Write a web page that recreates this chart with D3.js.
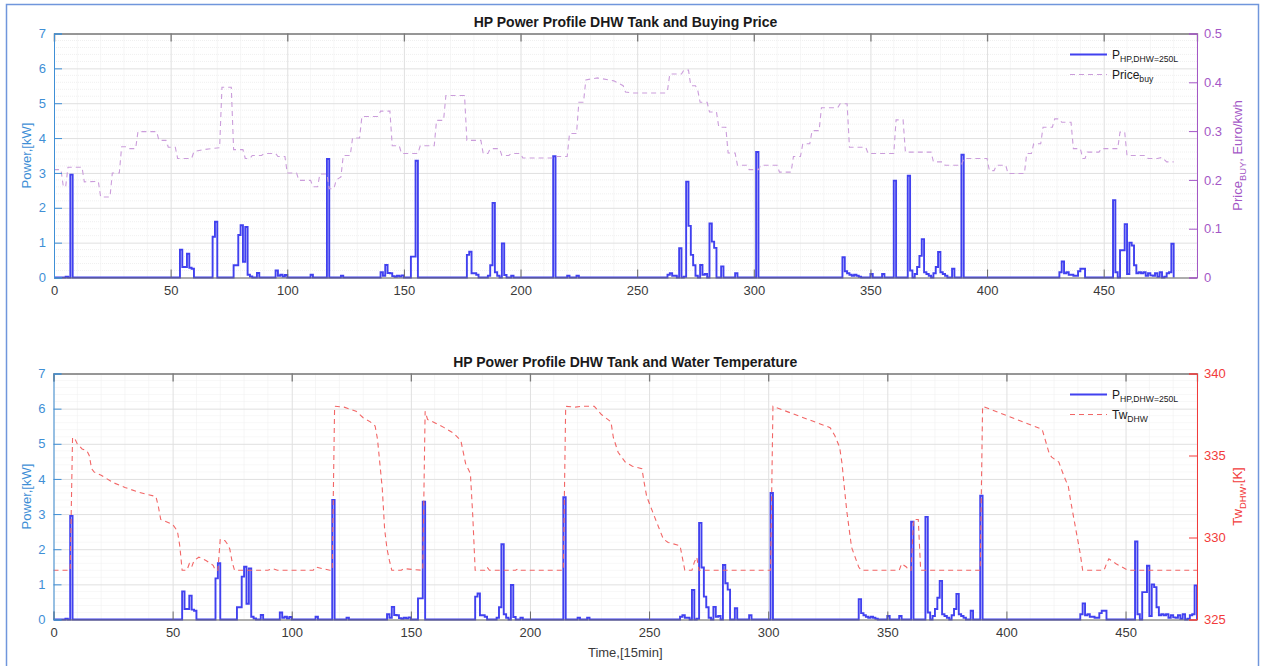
<!DOCTYPE html>
<html>
<head>
<meta charset="utf-8">
<script src="https://cdn.jsdelivr.net/npm/d3@7"></script>
<style>
html, body { margin: 0; padding: 0; background: #fff; }
svg { display: block; font-family: "Liberation Sans", Arial, sans-serif; }
</style>
</head>
<body>
<svg id="chart" width="1261" height="666"></svg>
<script>
// HP power of the DHW tank, [step, kW] ; every step not listed is 0
var powerSteps = [
	[5,0.02],[7,2.95],
	[54,0.8],[55,0.3],[56,0.3],[57,0.68],[58,0.28],[59,0.25],
	[68,1.17],[69,1.6],
	[77,0.35],[78,0.35],[79,1.22],[80,1.5],[81,0.45],[82,1.45],[83,0.08],[84,0.03],
	[87,0.13],
	[95,0.2],[96,0.05],[97,0.08],[98,0.03],[99,0.07],
	[110,0.08],
	[117,3.4],
	[123,0.05],
	[140,0.15],[141,0.05],[142,0.36],[143,0.13],[144,0.12],[145,0.04],[146,0.02],[147,0.05],[148,0.03],[149,0.06],
	[153,0.6],[154,0.6],[155,3.35],
	[177,0.65],[178,0.74],[179,0.12],[180,0.12],[181,0.08],
	[186,0.05],[187,0.35],[188,2.14],[189,0.15],[190,0.05],[192,0.98],[193,0.07],[196,0.05],
	[214,3.48],
	[220,0.05],[224,0.05],
	[263,0.08],[264,0.12],[265,0.05],[266,0.05],[268,0.84],[270,0.02],[271,2.75],[272,1.48],[273,0.65],[274,0.35],[275,0.05],
	[277,0.36],[278,0.08],[279,0.1],[281,1.55],[282,1.03],[283,0.85],[286,0.32],[292,0.12],
	[301,3.6],
	[338,0.58],[339,0.18],[340,0.12],[341,0.08],[342,0.05],[343,0.08],[344,0.05],[345,0.02],[350,0.1],[355,0.1],
	[360,2.78],[366,2.92],[367,0.2],[369,0.1],[370,0.3],[371,0.62],[372,1.1],[373,0.15],[374,0.1],[375,0.05],
	[377,0.12],[378,0.3],[379,0.73],[380,0.15],[381,0.1],[382,0.05],[385,0.25],
	[389,3.52],
	[431,0.15],[432,0.46],[433,0.12],[434,0.15],[435,0.08],[436,0.08],[437,0.05],[438,0.05],[439,0.18],[440,0.25],[441,0.25],
	[454,2.22],[455,0.15],[457,0.78],[458,0.78],[459,1.53],[460,0.1],[461,1.0],[462,0.92],[463,0.35],[464,0.12],
	[465,0.15],[466,0.12],[467,0.15],[468,0.05],[469,0.12],[470,0.06],[471,0.05],[472,0.12],[473,0.02],[474,0.15],
	[476,0.02],[477,0.12],[478,0.15],[479,0.97]
];
var lastStep = 480;

// buying price, [step, Euro/kwh]
var priceBuy = [
	[0,0.221],[3,0.221],[4,0.186],[5,0.186],[6,0.226],[12,0.226],[13,0.196],[19,0.197],[20,0.165],[24,0.165],
	[25,0.214],[28,0.214],[29,0.268],[31,0.268],[32,0.264],[35,0.264],[36,0.299],[44,0.299],[45,0.281],[48,0.281],
	[49,0.267],[52,0.267],[53,0.244],[59,0.244],[60,0.258],[64,0.262],[71,0.266],[72,0.39],[76,0.39],[77,0.262],
	[81,0.262],[82,0.244],[84,0.244],[85,0.25],[89,0.25],[90,0.254],[95,0.254],[96,0.248],[99,0.248],[100,0.214],
	[104,0.214],[105,0.199],[110,0.199],[111,0.186],[113,0.186],[114,0.212],[117,0.212],[118,0.182],[120,0.182],
	[121,0.2],[123,0.206],[124,0.25],[127,0.25],[128,0.286],[131,0.286],[132,0.33],[139,0.33],[140,0.341],[144,0.341],
	[145,0.27],[148,0.27],[149,0.254],[156,0.254],[157,0.27],[163,0.27],[164,0.322],[167,0.322],[168,0.373],[176,0.373],
	[177,0.281],[183,0.281],[184,0.254],[186,0.254],[187,0.264],[191,0.264],[192,0.25],[195,0.25],[196,0.254],[200,0.254],
	[201,0.245],[214,0.245],[215,0.248],[220,0.248],[221,0.295],[224,0.295],[225,0.359],[227,0.359],[228,0.405],
	[233,0.409],[240,0.403],[244,0.393],[245,0.38],[248,0.378],[262,0.378],[263,0.383],[264,0.417],[269,0.417],
	[270,0.425],[272,0.425],[273,0.393],[275,0.393],[276,0.383],[277,0.359],[280,0.359],[281,0.339],[284,0.339],
	[285,0.308],[288,0.308],[289,0.255],[292,0.255],[293,0.23],[297,0.23],[298,0.221],[302,0.221],[303,0.23],[310,0.23],
	[311,0.216],[316,0.216],[317,0.248],[320,0.248],[321,0.274],[324,0.274],[325,0.301],[328,0.301],[329,0.348],
	[336,0.348],[337,0.356],[340,0.356],[341,0.267],[348,0.267],[349,0.254],[360,0.254],[361,0.323],[364,0.323],
	[365,0.257],[376,0.257],[377,0.237],[381,0.237],[382,0.23],[389,0.23],[390,0.244],[400,0.244],[401,0.219],
	[403,0.219],[404,0.23],[408,0.23],[409,0.213],[416,0.213],[417,0.254],[419,0.254],[420,0.274],[423,0.274],
	[424,0.308],[428,0.308],[429,0.325],[431,0.325],[432,0.318],[436,0.318],[437,0.264],[440,0.264],[441,0.244],
	[442,0.244],[443,0.257],[448,0.257],[449,0.264],[456,0.264],[457,0.298],[459,0.298],[460,0.25],[468,0.25],
	[469,0.244],[473,0.244],[475,0.246],[477,0.237],[480,0.237]
];

// DHW water temperature, [step, K]
var waterTemp = [
	[0,328],[7,328],[8,336.1],[9,336.0],[10,335.7],[12,335.4],[14,335.3],[15,335.0],[16,334.2],[17,334.0],[20,333.8],
	[25,333.35],[30,333.05],[36,332.75],[43,332.5],[44,331.9],[45,331.1],[50,330.8],[52,330.4],[53,329.5],[54,328.0],
	[56,328.0],[57,328.4],[58,328.2],[59,328.6],[61,328.8],[64,328.6],[67,328.3],[68,328.0],[69,328.0],[70,329.9],
	[72,329.8],[73,329.6],[74,329.3],[75,328.5],[76,328.0],[90,328.0],[92,328.1],[94,328.0],[109,328.0],[110,328.2],
	[113,328.1],[116,328.0],[117,328.0],[118,338.0],[122,337.95],[127,337.7],[130,337.3],[133,337.05],[135,336.8],
	[136,336.0],[137,334.5],[138,333.0],[139,330.5],[140,329.3],[141,328.6],[142,328.0],[146,328.0],[147,328.1],
	[155,328.0],[156,337.7],[157,337.2],[160,337.0],[164,336.7],[168,336.35],[171,335.9],[173,334.5],[175,333.9],
	[176,331.3],[177,328.0],[181,328.0],[182,328.2],[183,328.0],[194,328.0],[195,328.1],[196,328.0],[214,328.0],
	[215,338.0],[219,337.95],[222,338.0],[227,338.0],[230,337.5],[234,337.05],[235,336.1],[237,335.2],[240,334.6],
	[243,334.35],[247,334.2],[248,333.3],[249,332.5],[253,331.0],[256,329.9],[258,329.7],[263,329.5],[265,328.0],
	[268,328.0],[269,328.5],[270,328.8],[271,328.0],[301,328.0],[302,338.0],[314,337.35],[326,336.7],[328,336.2],
	[330,335.5],[331,334.5],[332,333.0],[333,331.6],[335,329.4],[336,329.0],[338,328.2],[339,328.0],[355,328.0],
	[356,328.4],[358,328.2],[359,328.0],[360,328.0],[361,331.1],[363,331.1],[364,328.0],[389,328.0],[390,338.0],
	[415,336.6],[418,335.1],[419,334.9],[422,334.6],[424,333.8],[426,333.1],[427,332.2],[429,330.6],[431,329.0],
	[432,328.0],[441,328.0],[442,328.4],[443,328.7],[446,328.4],[451,328.0],[480,328.0]
];

var timeTicks = [0, 50, 100, 150, 200, 250, 300, 350, 400, 450];
var powerTicks = [0, 1, 2, 3, 4, 5, 6, 7];
var priceTicks = [0, 0.1, 0.2, 0.3, 0.4, 0.5];
var tempTicks = [325, 330, 335, 340];

var colPower = "#4141ef",
	colLeft = "#3f8fd6",
	colPurple = "#a457c6",
	colPurpleLine = "#cb9ddb",
	colRed = "#f23b3b",
	colRedLine = "#f26666";

var svg = d3.select("#chart");

// outer figure frame
svg.append("rect")
	.attr("x", 6.5).attr("y", 4.5)
	.attr("width", 1252).attr("height", 672)
	.style("fill", "none")
	.style("stroke", "#7096dc")
	.style("stroke-width", 1.5);

// turn the sparse step list into a stairs path
function powerPoints(){
	var pts = [[0, 0]];
	powerSteps.forEach(function(d, i){
		var prev = pts[pts.length - 1];
		if(prev[0] < d[0]) pts.push([d[0], d[1]]);
		else pts[pts.length - 1] = [d[0], d[1]];
		var next = powerSteps[i + 1];
		if(!next || next[0] != d[0] + 1) pts.push([d[0] + 1, 0]);
	});
	pts.push([lastStep, 0]);
	return pts;
}

function subText(sel, x, y, main, sub, tail, size, color, rotate){
	var t = sel.append("text")
		.attr("x", x).attr("y", y)
		.style("font-size", size + "px")
		.style("fill", color);
	if(rotate) t.attr("transform", "rotate(-90," + x + "," + y + ")").attr("text-anchor", "middle");
	t.append("tspan").text(main);
	t.append("tspan").attr("dy", size * 0.3).style("font-size", (size * 0.72) + "px").text(sub);
	if(tail) t.append("tspan").attr("dy", -size * 0.3).text(tail);
	return t;
}

function styleTicks(s, col){
	s.selectAll("text").style("font-size", "13px").style("fill", col)
		.style("font-family", "Liberation Sans, Arial, sans-serif");
}

function drawPanel(opt){
	var g = svg.append("g");
	var x = d3.scaleLinear().domain([0, opt.xMax]).range([opt.left, opt.right]);
	var y = d3.scaleLinear().domain([0, 7]).range([opt.bottom, opt.top]);
	var y2 = d3.scaleLinear().domain(opt.rDomain).range([opt.bottom, opt.top]);
	var w = opt.right - opt.left, h = opt.bottom - opt.top;

	// minor grid
	var minorX = d3.range(0, opt.xMax + 0.1, 10).filter(function(d){ return d % 50 != 0; });
	var minorY = d3.range(0, 7.01, 0.2).filter(function(d){ return Math.abs(d - Math.round(d)) > 0.01; });
	g.append("g").selectAll("line").data(minorX).enter().append("line")
		.attr("x1", function(d){ return x(d); }).attr("x2", function(d){ return x(d); })
		.attr("y1", opt.top).attr("y2", opt.bottom)
		.style("stroke", "#ededed").style("stroke-dasharray", "1,1");
	g.append("g").selectAll("line").data(minorY).enter().append("line")
		.attr("y1", function(d){ return y(d); }).attr("y2", function(d){ return y(d); })
		.attr("x1", opt.left).attr("x2", opt.right)
		.style("stroke", "#f0f0f0").style("stroke-dasharray", "1,1");

	// major grid
	g.append("g").attr("transform", "translate(0," + opt.bottom + ")")
		.call(d3.axisBottom(x).tickValues(timeTicks).tickSize(-h).tickFormat(""))
		.call(function(s){ s.select(".domain").remove(); s.selectAll("line").style("stroke", "#e0e0e0"); });
	g.append("g").attr("transform", "translate(" + opt.left + ",0)")
		.call(d3.axisLeft(y).tickValues(powerTicks).tickSize(-w).tickFormat(""))
		.call(function(s){ s.select(".domain").remove(); s.selectAll("line").style("stroke", "#e0e0e0"); });

	// top edge of the box
	g.append("g").attr("transform", "translate(0," + opt.top + ")")
		.call(d3.axisTop(x).tickValues(timeTicks).tickSize(-8).tickFormat(""))
		.call(function(s){ s.selectAll("line, path").style("stroke", "#7a7a7a").style("stroke-width", 1.3); });

	// data
	var powerLine = d3.line()
		.x(function(d){ return x(d[0]); })
		.y(function(d){ return y(d[1]); })
		.curve(d3.curveStepAfter);
	g.append("path").datum(powerPoints())
		.attr("d", powerLine)
		.style("fill", "none")
		.style("stroke", colPower)
		.style("stroke-width", 1.9)
		.style("stroke-linejoin", "miter");

	var rightLine = d3.line()
		.x(function(d){ return x(d[0]); })
		.y(function(d){ return y2(d[1]); });
	g.append("path").datum(opt.rData)
		.attr("d", rightLine)
		.style("fill", "none")
		.style("stroke", opt.rLine)
		.style("stroke-width", 1.1)
		.style("stroke-dasharray", "5,4");

	// x axis
	g.append("g").attr("transform", "translate(0," + opt.bottom + ")")
		.call(d3.axisBottom(x).tickValues(timeTicks).tickSize(-8).tickPadding(8))
		.call(function(s){
			s.selectAll("line, path").style("stroke", "#6a6a6a");
			styleTicks(s, "#3a3a3a");
		});

	// left axis
	g.append("g").attr("transform", "translate(" + opt.left + ",0)")
		.call(d3.axisLeft(y).tickValues(powerTicks).tickSize(-8).tickPadding(8).tickFormat(d3.format("d")))
		.call(function(s){
			s.selectAll("line, path").style("stroke", colLeft);
			styleTicks(s, colLeft);
		});

	// right axis
	g.append("g").attr("transform", "translate(" + opt.right + ",0)")
		.call(d3.axisRight(y2).tickValues(opt.rTicks).tickSize(-8).tickPadding(7)
			.tickFormat(opt.rFormat))
		.call(function(s){
			s.selectAll("line, path").style("stroke", opt.rColor);
			styleTicks(s, opt.rColor);
		});

	// title and axis labels
	g.append("text")
		.attr("x", (opt.left + opt.right) / 2).attr("y", opt.top - 7)
		.attr("text-anchor", "middle")
		.style("font-size", "14px").style("font-weight", "bold").style("fill", "#1a1a1a")
		.text(opt.title);

	var ym = (opt.top + opt.bottom) / 2;
	g.append("text")
		.attr("transform", "translate(31," + ym + ") rotate(-90)")
		.attr("text-anchor", "middle")
		.style("font-size", "13px").style("fill", colLeft)
		.text("Power,[kW]");

	subText(g, 1242, ym, opt.rLabel[0], opt.rLabel[1], opt.rLabel[2], 13, opt.rColor, true);

	// legend
	var lx = 1070, ly = opt.top + 21;
	g.append("line").attr("x1", lx).attr("x2", lx + 37).attr("y1", ly).attr("y2", ly)
		.style("stroke", colPower).style("stroke-width", 1.9);
	subText(g, lx + 42, ly + 4, "P", "HP,DHW=250L", null, 12, "#1a1a1a", false);
	g.append("line").attr("x1", lx).attr("x2", lx + 37).attr("y1", ly + 20).attr("y2", ly + 20)
		.style("stroke", opt.rLine).style("stroke-width", 1.1).style("stroke-dasharray", "5,4");
	subText(g, lx + 42, ly + 24, opt.legend[0], opt.legend[1], null, 12, "#1a1a1a", false);

	if(opt.xLabel){
		g.append("text")
			.attr("x", (opt.left + opt.right) / 2).attr("y", opt.bottom + 37)
			.attr("text-anchor", "middle")
			.style("font-size", "13px").style("fill", "#3a3a3a")
			.text(opt.xLabel);
	}
}

drawPanel({
	left: 54, right: 1197, top: 33.5, bottom: 277.5, xMax: 490,
	title: "HP Power Profile DHW Tank and Buying Price",
	rDomain: [0, 0.5], rTicks: priceTicks, rFormat: d3.format(".1~f"),
	rData: priceBuy, rColor: colPurple, rLine: colPurpleLine,
	rLabel: ["Price", "BUY", ", Euro/kwh"],
	legend: ["Price", "buy"]
});

drawPanel({
	left: 53.5, right: 1197, top: 373.5, bottom: 619.5, xMax: 480,
	title: "HP Power Profile DHW Tank and Water Temperature",
	rDomain: [325, 340], rTicks: tempTicks, rFormat: d3.format("d"),
	rData: waterTemp, rColor: colRed, rLine: colRedLine,
	rLabel: ["Tw", "DHW", ",[K]"],
	legend: ["Tw", "DHW"],
	xLabel: "Time,[15min]"
});
</script>
</body>
</html>
